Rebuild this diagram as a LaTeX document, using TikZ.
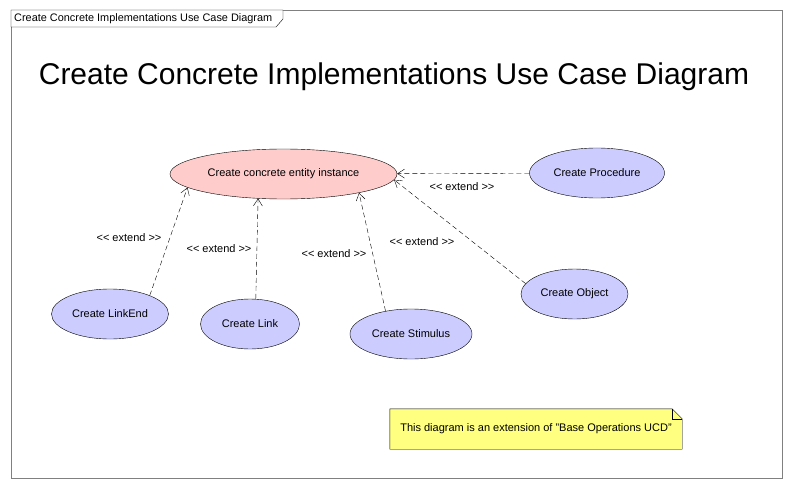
\documentclass[tikz,border=0pt]{standalone}
\usepackage{fontspec}
\setmainfont{Liberation Sans}
\usepackage[svgnames]{xcolor}
\usetikzlibrary{shapes.geometric,arrows.meta,backgrounds}

\definecolor{entityfill}{HTML}{FFCCCC}
\definecolor{casefill}{HTML}{CCCCFF}
\definecolor{notefill}{HTML}{FFFF80}
\newcommand{\ext}{<\kern0pt< extend >\kern0pt>}

\begin{document}
\begin{tikzpicture}[
            x = 1pt, y = -1pt, % pixel-like units, y downwards
            > = {Straight Barb[length=7pt,width=9pt]}, % open arrow head
            font = \fontsize{11}{13}\selectfont,
        ]

        \tikzstyle{usecase}=[
            ellipse,
            draw = black,
            fill = casefill,
            inner sep = 0pt,
            minimum height = 50pt
        ]
        \tikzstyle{extend}=[
            ->,
            dash pattern = on 5pt off 3pt
        ]

  \useasboundingbox (0,0) rectangle (791,489);
  \draw[gray] (11,10) rectangle (782,478);
  \draw[fill=white] (11,10) -- (283,10) -- (283,19) -- (276,27) -- (11,27) -- cycle;
  \node[anchor=west, inner sep=0pt, font=\fontsize{10.9}{12}\selectfont] (f) at (14,19) {Create Concrete Implementations Use Case Diagram};

  \node[font=\fontsize{30}{34}\selectfont] (t) at (394,77) {Create Concrete Implementations Use Case Diagram};

  \node[usecase, fill=entityfill, minimum width=227pt] (n1) at (283.5,174) {Create concrete entity instance};
  \node[usecase, minimum width=135pt] (n2) at (597,173) {Create Procedure};
  \node[usecase, minimum width=117pt] (n3) at (110,314) {Create LinkEnd};
  \node[usecase, minimum width=99pt]  (n4) at (250,324) {Create Link};
  \node[usecase, minimum width=122pt] (n5) at (411,334) {Create Stimulus};
  \node[usecase, minimum width=107pt] (n6) at (574.5,294) {Create Object};

  \draw[extend] (n2) -- (n1);
  \draw[extend] (n3.25) -- (n1.188);
  \draw[extend] (n4.77) -- (n1.224);
  \draw[extend] (n5.138) -- (n1.346);
  \draw[extend] (n6.168) -- (n1.357);

  \node (e1) at (462,187) {\ext};
  \node (e2) at (129,238) {\ext};
  \node (e3) at (219,249) {\ext};
  \node (e4) at (334,254) {\ext};
  \node (e5) at (422,242) {\ext};

  % note with folded corner
  \node[minimum width=292pt, minimum height=40pt] (note) at (536,429) {This diagram is an extension of "Base Operations UCD"};
  \begin{scope}[on background layer]
    \draw[fill=notefill] (note.north west) -- ([xshift=-10pt]note.north east) -- ([yshift=-10pt]note.north east) -- (note.south east) -- (note.south west) -- cycle;
    \draw ([xshift=-10pt]note.north east) -- ([xshift=-10pt,yshift=-10pt]note.north east) -- ([yshift=-10pt]note.north east);
  \end{scope}

\end{tikzpicture}
\end{document}
